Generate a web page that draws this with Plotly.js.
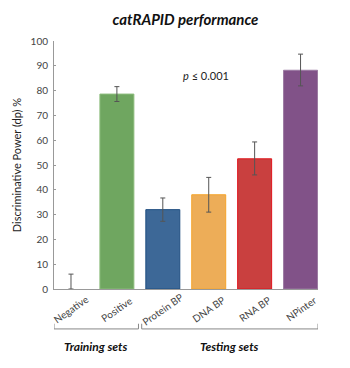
<!DOCTYPE html>
<html>
<head>
<meta charset="utf-8">
<script src="https://cdn.plot.ly/plotly-3.0.1.min.js"></script>
<style>html,body{margin:0;padding:0;background:#fff;}#chart{width:350px;height:368px;}</style>
</head>
<body>
<div id="chart"></div>
<script>
var categories = ["Negative", "Positive", "Protein BP", "DNA BP", "RNA BP", "NPinter"];
var values = [0, 78.6, 32, 38, 52.5, 88.2];
var errPlus = [6, 3, 4.7, 7, 6.8, 6.5];
var errMinus = [0, 3, 4.7, 7, 6.5, 6.3];
var fillColors = ["#ffffff", "#6fa660", "#3d6897", "#edad58", "#c9403f", "#815288"];
var edgeColors = ["#ffffff", "#8cbc7c", "#1f4e80", "#f5a42a", "#e0141c", "#9b7aa2"];
var yTicks = [0, 10, 20, 30, 40, 50, 60, 70, 80, 90, 100];
var groups = ["Training sets", "Testing sets"];
var groupSpan = [[-0.37, 1.47], [1.54, 5.38]];

var idx = categories.map(function(_, i){ return i; });
var font = "Lato, 'Open Sans', sans-serif";

var trace = {
  type: "bar",
  x: idx,
  y: values,
  width: 0.74,
  marker: {color: fillColors, line: {color: edgeColors, width: 1}},
  error_y: {type: "data", array: errPlus, arrayminus: errMinus, visible: true,
            color: "#555555", thickness: 1, width: 2.5},
  hoverinfo: "none"
};

var annotations = [];
categories.forEach(function(c, i){
  annotations.push({x: i, xref: "x", y: -0.08, yref: "paper", text: c, showarrow: false,
    textangle: -35, xanchor: "center", yanchor: "middle",
    font: {family: font, size: 10, color: "#444"}});
});
groups.forEach(function(g, i){
  annotations.push({x: (groupSpan[i][0] + groupSpan[i][1]) / 2, xref: "x", y: -0.23, yref: "paper",
    text: "<b><i>" + g + "</i></b>", showarrow: false, xanchor: "center", yanchor: "middle",
    font: {family: font, size: 12, color: "#111"}});
});
annotations.push({x: 2.93, xref: "x", y: 86, yref: "y", text: "<i>p</i> ≤ 0.001", showarrow: false,
  xanchor: "center", yanchor: "middle", font: {family: font, size: 11, color: "#222"}});

var shapes = [];
groupSpan.forEach(function(s){
  var style = {color: "#888", width: 1};
  shapes.push({type: "line", xref: "x", yref: "paper", x0: s[0], x1: s[1], y0: -0.161, y1: -0.161, line: style});
  shapes.push({type: "line", xref: "x", yref: "paper", x0: s[0], x1: s[0], y0: -0.161, y1: -0.14, line: style});
  shapes.push({type: "line", xref: "x", yref: "paper", x0: s[1], x1: s[1], y0: -0.161, y1: -0.14, line: style});
});

var layout = {
  width: 350, height: 368,
  margin: {l: 54, r: 32, t: 41, b: 79},
  paper_bgcolor: "#fff", plot_bgcolor: "#fff",
  showlegend: false,
  title: {text: "<b><i>catRAPID performance</i></b>", x: 0.53, xanchor: "center", y: 0.945, yanchor: "middle",
          font: {family: font, size: 15, color: "#111"}},
  xaxis: {range: [-0.37, 5.38], tickvals: idx, showticklabels: false, ticks: "",
          showline: true, linecolor: "#999", linewidth: 1, showgrid: false, zeroline: false, fixedrange: true},
  yaxis: {range: [0, 100], tickvals: yTicks, ticks: "inside", ticklen: 2, tickcolor: "#999",
          ticklabelstandoff: 3,
          showline: true, linecolor: "#999", linewidth: 1, showgrid: false, zeroline: false,
          tickfont: {family: font, size: 10, color: "#444"},
          title: {text: "Discriminative Power (dp) %", font: {family: font, size: 11, color: "#222"}, standoff: 6}},
  annotations: annotations,
  shapes: shapes
};

Plotly.newPlot("chart", [trace], layout, {displayModeBar: false, staticPlot: true});
</script>
</body>
</html>
